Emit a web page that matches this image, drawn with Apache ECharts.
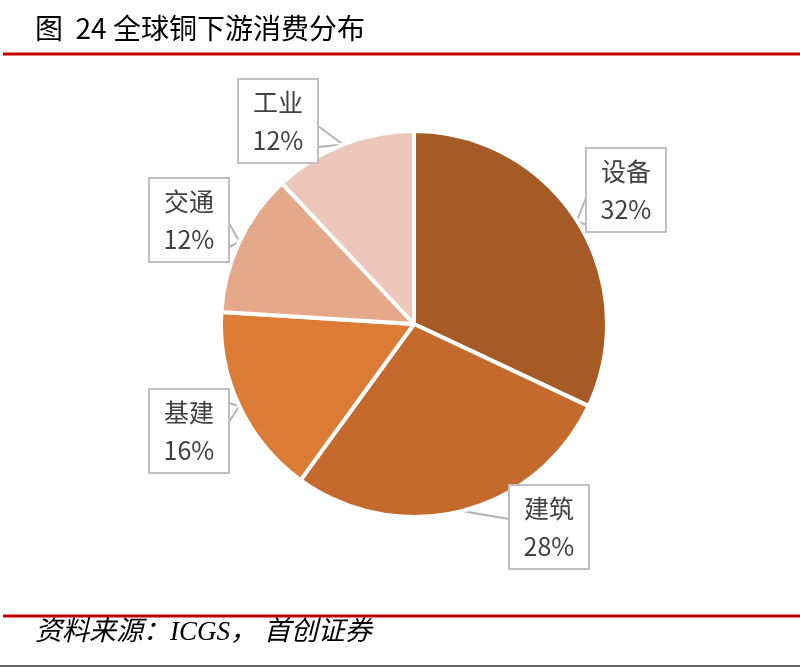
<!DOCTYPE html>
<html lang="zh">
<head>
<meta charset="UTF-8">
<title>全球铜下游消费分布</title>
<script src="https://cdn.jsdelivr.net/npm/echarts@6/dist/echarts.min.js"></script>
<style>
  html, body { margin: 0; padding: 0; background: #fff; }
  #chart { width: 800px; height: 667px; }
</style>
</head>
<body>
<div id="chart"></div>
<script>
// 数据
var names = ['设备', '建筑', '基建', '交通', '工业'];
var shares = [32, 28, 16, 12, 12];
var colors = ['#A65B26', '#C46A2C', '#DC7B35', '#E5A88A', '#EDC7B9'];

// 标注框位置 [中心x, 中心y, 尖角所在边, 尖角起点, 尖角终点]
var boxes = [
  [626, 190, 'left', 8, 35],
  [549, 527, 'left', -39, -8],
  [189, 431, 'right', -28, -9],
  [189, 220, 'right', 3, 27],
  [278, 121, 'right', 5, 26]
];
var pieX = 414, pieY = 324, pieR = 193;

var total = 0;
shares.forEach(function (v) { total += v; });

var chart = echarts.init(document.getElementById('chart'));

var option = {
  backgroundColor: '#fff',
  animation: false,
  title: {
    text: '图  24 全球铜下游消费分布',
    left: 30,
    top: 9,
    textStyle: {
      fontFamily: 'Noto Sans CJK SC',
      fontSize: 28,
      fontWeight: 'normal',
      color: '#000'
    }
  },
  graphic: [
    { type: 'line', shape: { x1: 3, y1: 54, x2: 800, y2: 54 }, style: { stroke: '#C00000', lineWidth: 3 } },
    { type: 'line', shape: { x1: 3, y1: 616, x2: 800, y2: 616 }, style: { stroke: '#C00000', lineWidth: 3 } },
    { type: 'line', shape: { x1: 0, y1: 666, x2: 800, y2: 666 }, style: { stroke: '#333', lineWidth: 1.5 } },
    {
      type: 'text', left: 35, top: 619,
      style: {
        text: '资料来源：ICGS， 首创证券',
        font: 'italic 27px "Liberation Serif", "Noto Sans CJK SC"',
        fill: '#000'
      }
    }
  ],
  series: [{
    type: 'pie',
    center: [pieX, pieY],
    radius: [0, pieR],
    startAngle: 90,
    clockwise: true,
    avoidLabelOverlap: false,
    itemStyle: { borderColor: '#fff', borderWidth: 4 },
    label: {
      show: true,
      position: 'outside',
      formatter: function (p) { return p.name + '\n' + p.value + '%'; },
      fontFamily: 'Noto Sans CJK SC',
      fontSize: 25,
      lineHeight: 38,
      color: '#404040',
      align: 'center',
      width: 54,
      padding: [3, 12],
      backgroundColor: '#fff',
      borderColor: '#BFBFBF',
      borderWidth: 2
    },
    labelLine: {
      show: true,
      length: 10,
      length2: 10,
      lineStyle: { color: '#B4B4B4', width: 2 }
    },
    labelLayout: function (params) {
      var i = params.dataIndex;
      var b = boxes[i];
      var before = 0;
      for (var k = 0; k < i; k++) before += shares[k];
      var mid = (before + shares[i] / 2) / total * Math.PI * 2;
      var tip = [pieX + pieR * Math.sin(mid), pieY - pieR * Math.cos(mid)];
      var ex = b[2] === 'left' ? b[0] - 40 : b[0] + 40;
      return {
        x: b[0],
        y: b[1],
        align: 'center',
        verticalAlign: 'middle',
        labelLinePoints: [[ex, b[1] + b[3]], tip, [ex, b[1] + b[4]]]
      };
    },
    data: names.map(function (n, i) {
      return { name: n, value: shares[i], itemStyle: { color: colors[i] } };
    })
  }]
};

chart.setOption(option);
</script>
</body>
</html>
